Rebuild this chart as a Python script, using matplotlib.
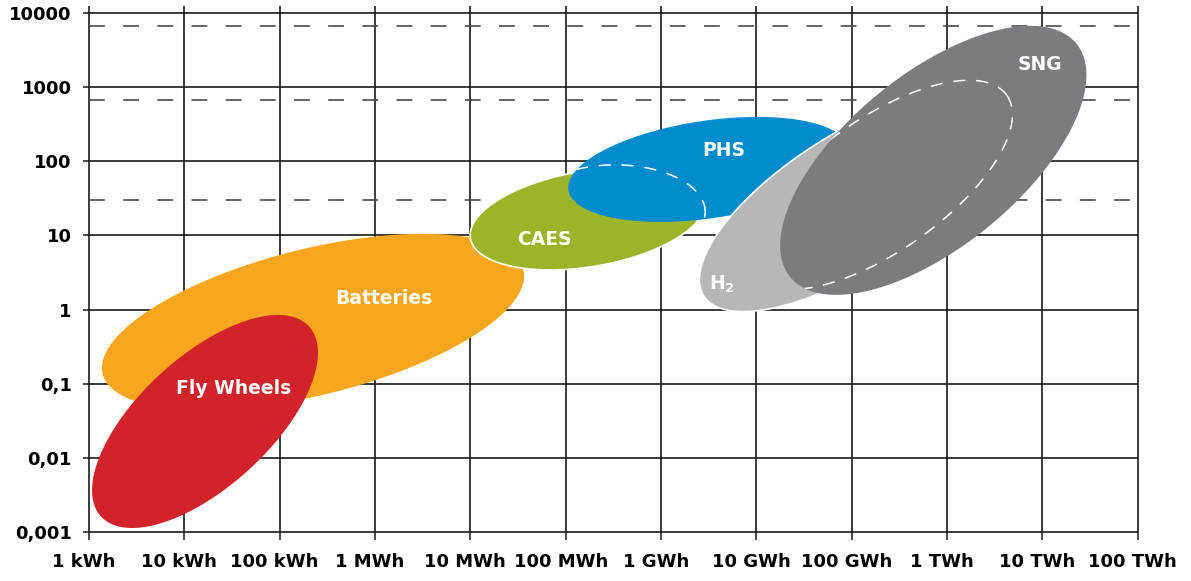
import numpy as np
import matplotlib
matplotlib.use("Agg")
import matplotlib.pyplot as plt
from matplotlib.transforms import ScaledTranslation

# axes are in decades: x = log10(energy / kWh), y = log10(discharge time / h)
energy_labels = ["1 kWh", "10 kWh", "100 kWh", "1 MWh", "10 MWh", "100 MWh",
                 "1 GWh", "10 GWh", "100 GWh", "1 TWh", "10 TWh", "100 TWh"]
time_labels = ["0,001", "0,01", "0,1", "1", "10", "100", "1000", "10000"]
hour_lines = [30, 670, 6700]

# storage technologies, in drawing order
techs = ["Batteries", "Fly Wheels", "CAES", "PHS", "H2", "SNG"]
center_energy = [2.350, 1.217, 5.231, 6.501, 7.985, 8.856]
center_time = [-0.166, -1.507, 1.222, 1.889, 1.451, 2.011]
semi_major = [2.273, 1.478, 1.247, 1.488, 1.826, 1.937]
semi_minor = [0.768, 0.684, 0.502, 0.512, 0.703, 0.905]
tilt = [13.9, 42.4, 9.4, 8.35, 32.7, 39.2]
colors = ["#F8A61D", "#D2232A", "#9DB42A", "#008BCF", "#B6B7B9", "#7B7C80"]
white_edge = [False, False, True, False, True, False]
label_energy = [3.090, 1.516, 4.780, 6.658, 6.642, 9.979]
label_time = [0.151, -1.069, 0.939, 2.146, 0.346, 3.298]
label_text = ["Batteries", "Fly Wheels", "CAES", "PHS", r"H$_\mathbf{2}$", "SNG"]

# dashed white outlines drawn inside PHS and SNG
outline_in = ["PHS", "SNG"]
outline_energy = [5.519, 8.300]
outline_time = [1.317, 1.681]
outline_major = [0.944, 1.626]
outline_minor = [0.493, 0.693]
outline_tilt = [0.0, 35.3]

W, H = 11.91, 5.81
AX_POS = [89 / 1191, 48.7 / 581, 1048.7 / 1191, 519.6 / 581]
n_x = len(energy_labels) - 1
n_y = len(time_labels) - 1
# one y decade stretched to look like one x decade on screen
ratio = (AX_POS[2] * W / n_x) / (AX_POS[3] * H / n_y)


def ellipse(cx, cy, a, b, angle):
    t = np.linspace(0, 2 * np.pi, 300)
    th = np.radians(angle)
    du, dv = a * np.cos(t), b * np.sin(t)
    x = cx + du * np.cos(th) - dv * np.sin(th)
    y = cy + (du * np.sin(th) + dv * np.cos(th)) * ratio
    return x, y


fig = plt.figure(figsize=(W, H), dpi=100)
ax = fig.add_axes(AX_POS)
ax.set_xlim(0, n_x)
ax.set_ylim(-3, n_y - 3)
for s in ax.spines.values():
    s.set_visible(False)

xt = np.arange(n_x + 1)
yt = np.arange(-3, n_y - 3 + 1)
grid_kw = dict(color="#1a1a1a", lw=1.2, zorder=0.5, clip_on=False)
ax.vlines(xt, -3, n_y - 3 + 0.09, **grid_kw)
ax.hlines(yt, 0, n_x, **grid_kw)
ax.hlines(np.log10(hour_lines), 0, n_x, color="#4a4a4a", lw=1.2,
          linestyles=[(0, (9.5, 11))], zorder=0.6, clip_on=False)

ax.set_xticks(xt)
ax.set_xticklabels(energy_labels)
ax.set_yticks(yt)
ax.set_yticklabels(time_labels)
ax.tick_params(axis="x", length=6, width=1.1, color="#1a1a1a", pad=9)
ax.tick_params(axis="y", length=4.5, width=1.1, color="#1a1a1a", pad=8)
for lab in ax.get_xticklabels() + ax.get_yticklabels():
    lab.set_fontsize(13)
    lab.set_fontweight("bold")
    lab.set_fontfamily("DejaVu Sans")
shift = ScaledTranslation(-5 / 100, 0, fig.dpi_scale_trans)
for lab in ax.get_xticklabels():
    lab.set_transform(lab.get_transform() + shift)

patches = {}
for i, name in enumerate(techs):
    x, y = ellipse(center_energy[i], center_time[i], semi_major[i], semi_minor[i], tilt[i])
    poly, = ax.fill(x, y, color=colors[i], zorder=2 + i,
                    ec="white" if white_edge[i] else colors[i],
                    lw=1.2 if white_edge[i] else 0)
    patches[name] = poly
    ax.text(label_energy[i], label_time[i], label_text[i], color="white",
            fontsize=13.5, fontweight="bold", ha="center", va="center", zorder=20)

for i, name in enumerate(outline_in):
    x, y = ellipse(outline_energy[i], outline_time[i], outline_major[i],
                   outline_minor[i], outline_tilt[i])
    line, = ax.plot(x, y, color="white", lw=1.1, ls=(0, (8, 7)),
                    zorder=2 + techs.index(name) + 0.5)
    line.set_clip_path(patches[name])

fig.savefig("out.png", dpi=100)
